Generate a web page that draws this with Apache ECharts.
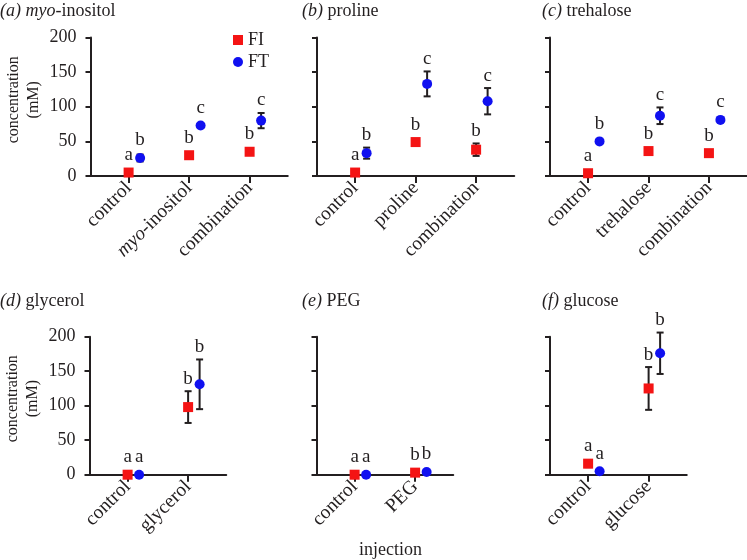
<!DOCTYPE html>
<html>
<head>
<meta charset="utf-8">
<script src="https://cdn.jsdelivr.net/npm/echarts@6/dist/echarts.min.js"></script>
<style>html,body{margin:0;padding:0;background:#fff;}#c{width:747px;height:560px;}</style>
</head>
<body>
<div id="c"></div>
<script>
// ---- data ----
const panelTitles = ['{i|(a)} {i|myo}-inositol', '{i|(b)} proline', '{i|(c)} trehalose',
                     '{i|(d)} glycerol', '{i|(e)} PEG', '{i|(f)} glucose'];
const catsA = ['control', 'myo-inositol', 'combination'];
const catsB = ['control', 'proline', 'combination'];
const catsC = ['control', 'trehalose', 'combination'];
const catsD = ['control', 'glycerol'];
const catsE = ['control', 'PEG'];
const catsF = ['control', 'glucose'];

const fiA = [5, 30, 35],   fiErrA = [0, 0, 0],  fiLetA = ['a', 'b', 'b'];
const ftA = [26, 73, 80],  ftErrA = [5, 3, 11], ftLetA = ['b', 'c', 'c'];
const fiB = [5, 49, 38],   fiErrB = [0, 0, 9],  fiLetB = ['a', 'b', 'b'];
const ftB = [33, 133, 108], ftErrB = [8, 18, 19], ftLetB = ['b', 'c', 'c'];
const fiC = [4, 36, 33],   fiErrC = [0, 4, 0],  fiLetC = ['a', 'b', 'b'];
const ftC = [50, 87, 81],  ftErrC = [0, 12, 3], ftLetC = ['b', 'c', 'c'];
const fiD = [0, 98],   fiErrD = [0, 23], fiLetD = ['a', 'b'];
const ftD = [0, 131],  ftErrD = [0, 36], ftLetD = ['a', 'b'];
const fiE = [0, 3],    fiErrE = [0, 0],  fiLetE = ['a', 'b'];
const ftE = [0, 4],    ftErrE = [0, 0],  ftLetE = ['a', 'b'];
const fiF = [16, 125], fiErrF = [5, 31], fiLetF = ['a', 'b'];
const ftF = [5, 176],  ftErrF = [0, 30], ftLetF = ['a', 'b'];

const yTicks = [0, 50, 100, 150, 200];

// ---- layout / style ----
const FONT = 'Liberation Serif';
const INK = '#231f20';
const RED = '#f41414';
const BLUE = '#1010f0';
const FT_SHIFT = 0.19;
const PAD = 0.63;
const UNIT = 60.5;

const panels = [
  {cats: catsA, fi: fiA, fiErr: fiErrA, fiLet: fiLetA, ft: ftA, ftErr: ftErrA, ftLet: ftLetA},
  {cats: catsB, fi: fiB, fiErr: fiErrB, fiLet: fiLetB, ft: ftB, ftErr: ftErrB, ftLet: ftLetB},
  {cats: catsC, fi: fiC, fiErr: fiErrC, fiLet: fiLetC, ft: ftC, ftErr: ftErrC, ftLet: ftLetC},
  {cats: catsD, fi: fiD, fiErr: fiErrD, fiLet: fiLetD, ft: ftD, ftErr: ftErrD, ftLet: ftLetD},
  {cats: catsE, fi: fiE, fiErr: fiErrE, fiLet: fiLetE, ft: ftE, ftErr: ftErrE, ftLet: ftLetE},
  {cats: catsF, fi: fiF, fiErr: fiErrF, fiLet: fiLetF, ft: ftF, ftErr: ftErrF, ftLet: ftLetF}
];
const gridLefts = [90.5, 317, 550, 89.5, 316.5, 550];
const gridTops = [37.5, 37.5, 37.5, 336.7, 336.7, 336.7];
const gridH = [138.5, 138.5, 138.5, 138, 138, 138];
const titleLefts = [0, 302, 542, 0, 302, 542];
const titleTops = [2, 2, 2, 292, 292, 292];

const grids = [], xAxes = [], yAxes = [], series = [], titles = [];
const richI = {i: {fontStyle: 'italic', fontSize: 18, fontFamily: FONT, color: INK}};
const richCat = {i: {fontStyle: 'italic', fontSize: 19.5, fontFamily: FONT, color: INK}};

panels.forEach((p, i) => {
  const n = p.cats.length;
  grids.push({left: gridLefts[i], top: gridTops[i], width: (n - 1 + 2 * PAD) * UNIT, height: gridH[i]});
  const idx = p.cats.map((c, k) => k + 1);
  xAxes.push({
    type: 'value', gridIndex: i, min: 1 - PAD, max: n + PAD,
    axisLine: {show: true, lineStyle: {color: INK, width: 2}},
    splitLine: {show: false},
    axisTick: {show: true, customValues: idx, length: 7, lineStyle: {color: INK, width: 2}},
    axisLabel: {
      customValues: idx, rotate: 45, margin: 9, fontSize: 19.5, fontFamily: FONT, color: INK,
      formatter: v => {
        const s = p.cats[Math.round(v) - 1] || '';
        return s.startsWith('myo-') ? '{i|myo}-' + s.slice(4) : s;
      },
      rich: richCat
    }
  });
  yAxes.push({
    type: 'value', gridIndex: i, min: yTicks[0], max: yTicks[yTicks.length - 1], interval: 50,
    axisLine: {show: true, lineStyle: {color: INK, width: 2}},
    axisTick: {show: true, length: 5, lineStyle: {color: INK, width: 2}},
    splitLine: {show: false},
    axisLabel: {show: i % 3 === 0, fontSize: 18, fontFamily: FONT, color: INK, margin: 14},
    name: i % 3 === 0 ? 'concentration\n(mM)' : '',
    nameLocation: 'middle', nameGap: 47, nameRotate: 90,
    nameTextStyle: {fontSize: 16, fontFamily: FONT, color: INK, lineHeight: 19.5, padding: [0, 0, 0, 14]}
  });
  titles.push({
    text: panelTitles[i], left: titleLefts[i], top: titleTops[i], padding: 0,
    textStyle: {fontSize: 18, fontFamily: FONT, fontWeight: 'normal', color: INK, rich: richI}
  });

  const items = [];
  p.fi.forEach((v, k) => items.push({x: k + 1, v: v, e: p.fiErr[k], l: p.fiLet[k]}));
  p.ft.forEach((v, k) => items.push({x: k + 1 + FT_SHIFT, v: v, e: p.ftErr[k], l: p.ftLet[k]}));

  series.push({
    type: 'custom', xAxisIndex: i, yAxisIndex: i, z: 1, silent: true,
    data: items.map(d => [d.x, d.v, d.e]),
    renderItem: function (params, api) {
      const d = items[params.dataIndex];
      const c = api.coord([d.x, d.v]);
      const children = [];
      let top = c[1] - 5;
      if (d.e > 0) {
        const hi = api.coord([d.x, d.v + d.e]);
        const lo = api.coord([d.x, d.v - d.e]);
        const st = {stroke: INK, lineWidth: 2};
        children.push({type: 'line', shape: {x1: c[0], y1: lo[1], x2: c[0], y2: hi[1]}, style: st});
        children.push({type: 'line', shape: {x1: c[0] - 3.5, y1: hi[1], x2: c[0] + 3.5, y2: hi[1]}, style: st});
        children.push({type: 'line', shape: {x1: c[0] - 3.5, y1: lo[1], x2: c[0] + 3.5, y2: lo[1]}, style: st});
        top = Math.min(top, hi[1]);
      }
      children.push({
        type: 'text', x: c[0], y: top - 3,
        style: {text: d.l, font: '19px "' + FONT + '"', fill: INK, align: 'center', verticalAlign: 'bottom'}
      });
      return {type: 'group', children: children};
    }
  });
  series.push({
    name: 'FI', type: 'scatter', xAxisIndex: i, yAxisIndex: i, z: 3,
    symbol: 'rect', symbolSize: 10, itemStyle: {color: RED, opacity: 1},
    data: p.fi.map((v, k) => [k + 1, v])
  });
  series.push({
    name: 'FT', type: 'scatter', xAxisIndex: i, yAxisIndex: i, z: 3,
    symbol: 'circle', symbolSize: 10, itemStyle: {color: BLUE, opacity: 1},
    data: p.ft.map((v, k) => [k + 1 + FT_SHIFT, v])
  });
});

titles.push({
  text: 'injection', left: 359, top: 541, padding: 0,
  textStyle: {fontSize: 18, fontFamily: FONT, fontWeight: 'normal', color: INK}
});

const chart = echarts.init(document.getElementById('c'), null, {renderer: 'canvas'});
chart.setOption({
  animation: false,
  backgroundColor: '#fff',
  title: titles,
  legend: {
    left: 228, top: 26, orient: 'vertical', itemWidth: 10, itemHeight: 10, itemGap: 4,
    textStyle: {fontSize: 18, fontFamily: FONT, color: INK},
    itemStyle: {opacity: 1},
    data: [{name: 'FI', icon: 'rect'}, {name: 'FT', icon: 'circle'}]
  },
  grid: grids,
  xAxis: xAxes,
  yAxis: yAxes,
  series: series
});
</script>
</body>
</html>
